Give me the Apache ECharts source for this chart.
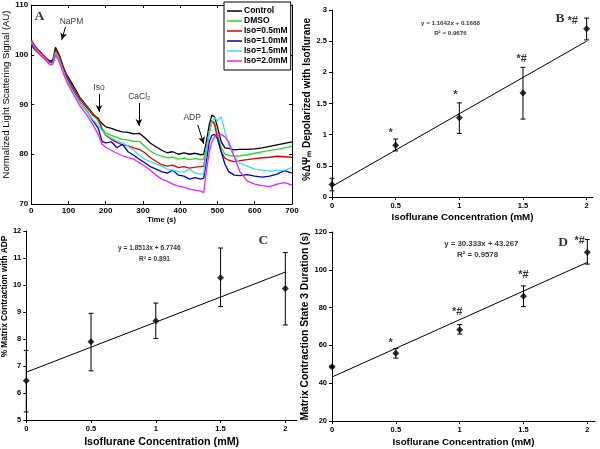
<!DOCTYPE html>
<html>
<head>
<meta charset="utf-8">
<script src="https://cdn.jsdelivr.net/npm/echarts@6/dist/echarts.min.js"></script>
<style>
  html, body { margin: 0; padding: 0; background: #fff; }
  #chart { width: 600px; height: 449px; }
</style>
</head>
<body>
<div id="chart"></div>
<script>
// panel A: light scattering traces
var timeA = [0,10,20,30,40,50,58,65,75,85,95,105,115,130,150,165,180,190,200,215,230,245,260,275,290,305,320,335,350,365,380,395,410,425,440,455,463,470,478,485,492,500,510,520,530,545,560,580,600,620,640,660,680,700];
var ctrlA  = [102.6,101.5,100.8,100,99.3,98.7,98.9,101.5,100,97.8,96,94.8,93.5,91.5,89.6,88.2,87,86.2,85.5,85.2,84.8,84.5,84.4,84.1,84.2,83.3,82.2,81.5,80.8,80.3,80.5,80,80.3,80,80.2,79.9,80,82.5,86,87.9,87.5,85.5,82.5,81.3,81.2,80.9,81,81,81.1,81.3,81.6,81.9,82.2,82.5];
var dmsoA  = [102.2,101.2,100.5,99.8,99.1,98.4,98.6,100.6,99.3,97.3,95.6,94.3,93,91.2,89.4,88,86.6,85.2,84.3,83.8,83.4,83,82.9,82.6,82.6,81.6,80.6,80,79.6,79.3,79.4,79,79.2,78.9,79.1,78.9,79,81.5,84.5,86.3,86.5,84,81.3,80,79.8,79.6,79.7,79.9,80.2,80.5,80.8,81,81.3,81.6];
var iso05A = [103,101.8,100.9,100.1,99.3,98.6,98.7,101,99.8,97.6,95.8,94.5,93.1,91.1,89.3,87.8,87.3,85,83.8,83,82.4,81.9,81.7,81.3,81,80.3,79.3,78.6,77.9,77.6,77.8,77.3,77.5,77.2,77.4,77.5,77.6,80.5,84.5,86.8,86,83,80.5,79.2,78.8,78.5,78.7,78.9,79.1,79.3,79.4,79.6,79.5,79.4];
var iso10A = [102,101,100.3,99.6,99,98.3,98.4,100.2,99,97,95.2,93.8,92.4,90.5,88.6,86.8,85.2,82.6,82.3,82.5,81.3,82,80.5,79.8,79,78.3,77.5,77,76.5,76.2,76.8,75.8,75.6,75,75.3,75,75.2,78.5,82.5,83.8,84,83.2,80.5,78,76.5,75.8,75.7,75.9,75.6,75.4,75.6,76,76.7,76.2];
var iso15A = [102.6,101.4,100.5,99.7,99,98.2,98.3,100.4,99,97,95,93.6,92.2,90.4,88.5,87,85.8,84.8,84,83.3,82.7,82.3,81.6,80.8,79.8,79,78.5,78,77.6,77,76.8,76.5,76.4,77,76.2,76,76.2,80.5,84.5,86.5,87.3,86.8,87.5,84.5,82,79.5,78.2,77.6,77,76.8,76.6,76.7,76.8,77.3];
var iso20A = [102.5,101.2,100.3,99.5,98.8,98,98.1,100,98.6,96.5,94.6,93.2,91.8,89.8,87.8,86,84,82,81.4,80.8,80.2,79.7,79.3,79,78.3,77.6,76.8,75.8,75,74.6,74,73.6,73.4,73,72.8,72.6,72.3,76.5,80.5,82.5,83.5,83.8,84,83.5,82.5,79.5,76.5,74.6,74,73.7,73.5,74,74.3,73.8];
var namesA = ['Control', 'DMSO', 'Iso=0.5mM', 'Iso=1.0mM', 'Iso=1.5mM', 'Iso=2.0mM'];
var colorsA = ['#000000', '#22dd22', '#e00000', '#0000cc', '#33e6e6', '#ee22ee'];

// panels B-D: isoflurane concentration
var conc = [0, 0.5, 1, 1.5, 2];
var depolB = [0.2, 0.83, 1.27, 1.67, 2.7];
var depolLowB = [0.1, 0.74, 1.02, 1.25, 2.52];
var depolHighB = [0.3, 0.93, 1.51, 2.08, 2.87];
var trendB = [0.17, 2.50];

var contrC = [6.45, 7.9, 8.67, 10.27, 9.87];
var contrLowC = [5.3, 6.82, 8.02, 9.2, 8.52];
var contrHighC = [7.58, 8.95, 9.33, 11.37, 11.2];
var trendC = [6.77, 10.48];

var durD = [48.7, 55.8, 68.3, 86, 109.3];
var durLowD = [48.2, 53.3, 66, 80.5, 103];
var durHighD = [49.2, 58.3, 71, 91.5, 116];
var trendD = [43.27, 103.93];
var trendX = [0, 2];

var chart = echarts.init(document.getElementById('chart'));
var FONT = 'Liberation Sans, Arial, sans-serif';

function pairs(xs, ys) {
  return xs.map(function (x, i) { return [x, ys[i]]; });
}

function errBars(ai, low, high) {
  return {
    type: 'custom', xAxisIndex: ai, yAxisIndex: ai, z: 3, silent: true,
    data: conc.map(function (c, i) { return [c, low[i], high[i]]; }),
    renderItem: function (params, api) {
      var lo = api.coord([api.value(0), api.value(1)]);
      var hi = api.coord([api.value(0), api.value(2)]);
      var w = 2.5;
      var st = { stroke: '#000', lineWidth: 1 };
      return {
        type: 'group', children: [
          { type: 'line', shape: { x1: lo[0], y1: lo[1], x2: hi[0], y2: hi[1] }, style: st },
          { type: 'line', shape: { x1: lo[0] - w, y1: lo[1], x2: lo[0] + w, y2: lo[1] }, style: st },
          { type: 'line', shape: { x1: hi[0] - w, y1: hi[1], x2: hi[0] + w, y2: hi[1] }, style: st }
        ]
      };
    }
  };
}

function means(ai, vals) {
  return {
    type: 'scatter', xAxisIndex: ai, yAxisIndex: ai, z: 4, silent: true,
    symbol: 'diamond', symbolSize: 7, itemStyle: { color: '#000' },
    data: pairs(conc, vals)
  };
}

function trend(ai, vals) {
  return {
    type: 'line', xAxisIndex: ai, yAxisIndex: ai, z: 2, silent: true,
    symbol: 'none', lineStyle: { color: '#000', width: 1 },
    data: pairs(trendX, vals)
  };
}

var starStyle = { fontSize: 11, fontWeight: 'bold', fontFamily: FONT };
function eqStyle(sz) { return { fontSize: sz, fontWeight: 'bold', fontFamily: FONT }; }
var letterStyle = { fontSize: 13.5, fontWeight: 'bold', fontFamily: 'Liberation Serif, Times New Roman, serif' };
var plainStyle = { fontSize: 8.5, fontFamily: FONT };

function notes(ai, list) {
  return {
    type: 'scatter', xAxisIndex: ai, yAxisIndex: ai, z: 5, silent: true,
    symbolSize: 1, itemStyle: { color: 'rgba(0,0,0,0)' },
    data: list.map(function (n) {
      return {
        value: [n[0], n[1]],
        label: Object.assign({ show: true, position: 'inside', color: '#000', formatter: n[2] }, n[3])
      };
    })
  };
}

function excelX(gi, max, gap, size) {
  return {
    type: 'value', gridIndex: gi, min: 0, max: max,
    name: 'Isoflurane Concentration (mM)', nameLocation: 'middle', nameGap: gap,
    nameTextStyle: { fontSize: size, fontWeight: 'bold', fontFamily: FONT, color: '#000' },
    axisLine: { show: true, onZero: false, lineStyle: { color: '#000', width: 1 } },
    axisTick: { show: true, length: 3, customValues: conc, lineStyle: { color: '#000' } },
    axisLabel: { customValues: conc, fontSize: 7.5, fontWeight: 'bold', fontFamily: FONT, color: '#000', margin: 5 },
    splitLine: { show: false }
  };
}

function excelY(gi, min, max, step, name, gap, size, shift) {
  return {
    type: 'value', gridIndex: gi, min: min, max: max, interval: step,
    name: name, nameLocation: 'middle', nameGap: gap,
    nameTextStyle: { fontSize: size, fontWeight: 'bold', fontFamily: FONT, color: '#000', padding: [0, 0, 0, shift] },
    axisLine: { show: true, onZero: false, lineStyle: { color: '#000', width: 1 } },
    axisTick: { show: true, length: 3, lineStyle: { color: '#000' } },
    axisLabel: { fontSize: 7.5, fontWeight: 'bold', fontFamily: FONT, color: '#000', margin: 5 },
    splitLine: { show: false }
  };
}

var boxAxis = {
  axisLine: { show: true, onZero: false, lineStyle: { color: '#000', width: 1 } },
  axisTick: { show: true, inside: true, length: 3, lineStyle: { color: '#000' } },
  splitLine: { show: false }
};

var seriesA = [ctrlA, dmsoA, iso05A, iso10A, iso15A, iso20A].map(function (vals, i) {
  return {
    name: namesA[i], type: 'line', xAxisIndex: 0, yAxisIndex: 0,
    symbol: 'none', silent: true, color: colorsA[i],
    lineStyle: { color: colorsA[i], width: 1.3 },
    data: pairs(timeA, vals)
  };
});

// arrows for panel A
seriesA[0].markLine = {
  silent: true, symbol: ['none', 'arrow'], symbolSize: [5, 7],
  label: { show: false },
  lineStyle: { color: '#000', width: 1, type: 'solid' },
  data: [
    [{ coord: [92, 105.6] }, { coord: [82, 103] }],
    [{ coord: [182, 92.1] }, { coord: [182, 88.5] }],
    [{ coord: [289, 90.3] }, { coord: [289, 85.7] }],
    [{ coord: [447, 85.9] }, { coord: [463, 82.1] }]
  ]
};

var option = {
  backgroundColor: '#fff',
  animation: false,
  legend: {
    data: namesA, orient: 'vertical', left: 224, top: 2,
    backgroundColor: '#fff', borderColor: '#000', borderWidth: 1,
    padding: [4, 3, 4, 3], itemGap: 0, itemWidth: 15, itemHeight: 1.5,
    icon: 'rect',
    textStyle: { fontSize: 8.5, fontWeight: 'bold', fontFamily: FONT, color: '#000', lineHeight: 10, padding: [0, 0, 0, -3] }
  },
  grid: [
    { left: 26, top: 5, width: 266, height: 199 },
    { left: 332, top: 10, width: 261, height: 187 },
    { left: 26, top: 231, width: 271, height: 190 },
    { left: 332, top: 232, width: 263, height: 189 }
  ],
  xAxis: [
    Object.assign({
      type: 'value', gridIndex: 0, min: 0, max: 700, interval: 100,
      name: 'Time (s)', nameLocation: 'middle', nameGap: 12,
      nameTextStyle: { fontSize: 7.5, fontWeight: 'bold', fontFamily: FONT, color: '#000' },
      axisLabel: { fontSize: 8, fontWeight: 'bold', fontFamily: FONT, color: '#000', margin: 3 }
    }, boxAxis),
    excelX(1, 2.05, 15, 9.8),
    excelX(2, 2.09, 17, 10.7),
    excelX(3, 2.06, 16, 9.8),
    Object.assign({
      type: 'value', gridIndex: 0, min: 0, max: 700, interval: 100, position: 'top',
      axisLabel: { show: false }
    }, boxAxis)
  ],
  yAxis: [
    Object.assign({
      type: 'value', gridIndex: 0, min: 70, max: 110, interval: 10,
      name: 'Normalized Light Scattering Signal (AU)', nameLocation: 'middle', nameGap: 16,
      nameTextStyle: { fontSize: 9.5, fontFamily: FONT, color: '#000', padding: [0, 0, 0, 20] },
      axisLabel: { fontSize: 8, fontWeight: 'bold', fontFamily: FONT, color: '#000', margin: 3 }
    }, boxAxis),
    excelY(1, 0, 3, 0.5, '%\u0394\u03a8\u2098 Depolarized with Isoflurane', 16, 10, 8),
    excelY(2, 5, 12, 1, '% Matrix Contraction with ADP', 16, 8.3, 58),
    excelY(3, 20, 120, 20, 'Matrix Contraction State 3 Duration (s)', 19, 10.3, 0),
    Object.assign({
      type: 'value', gridIndex: 0, min: 70, max: 110, interval: 10, position: 'right',
      axisLabel: { show: false }
    }, boxAxis)
  ],
  series: seriesA.concat([
    notes(0, [
      [108, 106.6, 'NaPM', plainStyle],
      [182, 93.3, 'Iso', plainStyle],
      [290, 91.5, 'CaCl\u2082', plainStyle],
      [432, 87.3, 'ADP', plainStyle],
      [22, 107.6, 'A', letterStyle]
    ]),
    trend(1, trendB), errBars(1, depolLowB, depolHighB), means(1, depolB),
    notes(1, [
      [0.93, 2.79, 'y = 1.1642x + 0.1688', eqStyle(6.2)],
      [0.93, 2.63, 'R\u00b2 = 0.9676', eqStyle(6.2)],
      [1.79, 2.87, 'B', letterStyle],
      [0.46, 1.02, '*', starStyle],
      [0.97, 1.63, '*', starStyle],
      [1.49, 2.22, '*#', starStyle],
      [1.89, 2.82, '*#', starStyle]
    ]),
    trend(2, trendC), errBars(2, contrLowC, contrHighC), means(2, contrC),
    notes(2, [
      [0.95, 11.37, 'y = 1.8513x + 6.7746', eqStyle(6.6)],
      [0.99, 10.97, 'R\u00b2 = 0.891', eqStyle(6.6)],
      [1.83, 11.63, 'C', letterStyle]
    ]),
    trend(3, trendD), errBars(3, durLowD, durHighD), means(3, durD),
    notes(3, [
      [1.17, 113.6, 'y = 30.333x + 43.267', eqStyle(7.8)],
      [1.14, 107.8, 'R\u00b2 = 0.9578', eqStyle(7.8)],
      [1.81, 114.2, 'D', letterStyle],
      [0.46, 61.5, '*', starStyle],
      [0.98, 77.5, '*#', starStyle],
      [1.5, 97.5, '*#', starStyle],
      [1.94, 115.5, '*#', starStyle]
    ])
  ])
};

chart.setOption(option);
</script>
</body>
</html>
